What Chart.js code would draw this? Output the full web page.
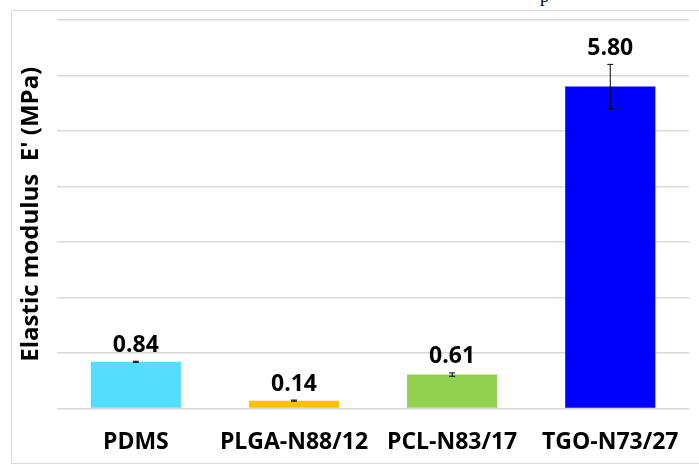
<!DOCTYPE html>
<html>
<head>
<meta charset="utf-8">
<script src="https://cdn.jsdelivr.net/npm/chart.js@4"></script>
<style>
  body { margin: 0; background: #fff; }
  #wrap { position: relative; width: 699px; height: 464px; overflow: hidden; }
  #frame { position: absolute; left: 11px; top: 10px; width: 700px; height: 452px; border: 1px solid #d9d9d9; }
  #cut { position: absolute; left: 540px; top: -14px; font: 18px "Liberation Serif"; color: #000; }
  canvas { position: absolute; left: 0; top: 0; }
</style>
</head>
<body>
<div id="wrap">
  <div id="frame"></div>
  <span id="cut">p</span>
  <canvas id="grafico" width="699" height="464"></canvas>
</div>
<script>
const categorias = ["PDMS", "PLGA-N88/12", "PCL-N83/17", "TGO-N73/27"];
const modulo = [0.84, 0.14, 0.61, 5.80];
const erro = [0.01, 0.01, 0.03, 0.40];
const cores = ['#55DDFF', '#FFC000', '#92D050', '#0000FF'];

const rotulos = {
    id: 'rotulos',
    afterDatasetsDraw(chart) {
        const ctx = chart.ctx;
        const y = chart.scales.y;
        const meta = chart.getDatasetMeta(0);
        ctx.save();
        meta.data.forEach((bar, i) => {
            const x = bar.x;
            const yTop = y.getPixelForValue(modulo[i] + erro[i]);
            const yBot = y.getPixelForValue(modulo[i] - erro[i]);
            // barra de erro
            ctx.strokeStyle = '#000';
            ctx.lineWidth = 1;
            ctx.beginPath();
            ctx.moveTo(x, yTop); ctx.lineTo(x, yBot);
            ctx.moveTo(x - 3, yTop); ctx.lineTo(x + 3, yTop);
            ctx.moveTo(x - 3, yBot); ctx.lineTo(x + 3, yBot);
            ctx.stroke();
            // valor
            ctx.fillStyle = '#000';
            ctx.font = 'bold 23px "Open Sans"';
            ctx.textAlign = 'center';
            ctx.textBaseline = 'middle';
            ctx.fillText(modulo[i].toFixed(2), x, Math.min(bar.y, yTop) - 16);
        });
        ctx.restore();
    }
};

new Chart(document.getElementById('grafico'), {
    type: 'bar',
    data: {
        labels: categorias,
        datasets: [{
            data: modulo,
            backgroundColor: cores,
            borderWidth: 0,
            barPercentage: 0.57,
            categoryPercentage: 1
        }]
    },
    plugins: [rotulos],
    options: {
        responsive: false,
        animation: false,
        layout: { padding: { left: 6, right: 4, top: 20, bottom: -12 } },
        plugins: { legend: { display: false }, tooltip: { enabled: false } },
        scales: {
            y: {
                min: 0,
                max: 7,
                ticks: { display: false, stepSize: 1 },
                grid: { color: '#d9d9d9', lineWidth: 1.5, drawTicks: false },
                border: { display: false },
                title: {
                    display: true,
                    text: "Elastic modulus  E' (MPa)",
                    color: '#000',
                    font: { family: 'Open Sans', weight: 'bold', size: 24 },
                    padding: { top: 11, bottom: 11 }
                }
            },
            x: {
                grid: { display: false, drawTicks: false },
                border: { display: false },
                ticks: {
                    color: '#000',
                    padding: 20,
                    font: { family: 'Open Sans', weight: 'bold', size: 23 }
                }
            }
        }
    }
});
</script>
</body>
</html>
